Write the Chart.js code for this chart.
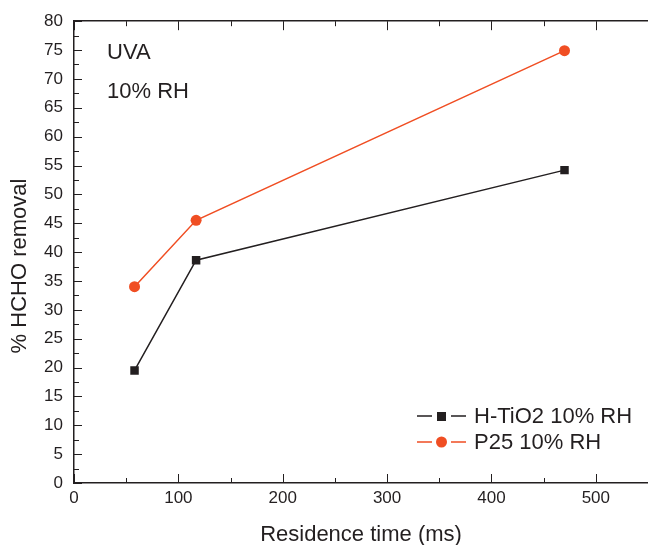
<!DOCTYPE html>
<html>
<head>
<meta charset="utf-8">
<script src="https://cdn.jsdelivr.net/npm/chart.js@4"></script>
<style>
  html, body { margin: 0; padding: 0; background: #fff; }
  #wrap { width: 648px; height: 545px; position: relative; }
</style>
</head>
<body>
<div id="wrap"><canvas id="grafico"></canvas></div>
<script>
// datos
const tiempos = [58, 117, 470];
const htio2 = [19.5, 38.6, 54.2];
const p25 = [34.0, 45.5, 74.9];
const nombres = ["H-TiO2 10% RH", "P25 10% RH"];
const xTicks = [0, 100, 200, 300, 400, 500];
const yTicks = [0, 5, 10, 15, 20, 25, 30, 35, 40, 45, 50, 55, 60, 65, 70, 75, 80];

const NEGRO = "#231f20";
const NARANJA = "#f04e23";
const FUENTE = "'Liberation Sans', Arial, sans-serif";

const puntos = (xs, ys) => xs.map((x, i) => ({ x: x, y: ys[i] }));

// ticks hacia adentro, textos y leyenda
const extras = {
  id: "extras",
  afterDraw(chart) {
    const ctx = chart.ctx;
    const { left, right, top, bottom } = chart.chartArea;
    const sx = chart.scales.x;
    const sy = chart.scales.y;
    ctx.save();
    ctx.strokeStyle = NEGRO;
    ctx.lineWidth = 1;
    ctx.beginPath();
    for (let v = 0; v <= 550; v += 50) {
      const px = Math.round(sx.getPixelForValue(v)) + 0.5;
      const len = v % 100 === 0 ? 9 : 5;
      ctx.moveTo(px, bottom); ctx.lineTo(px, bottom - len);
      ctx.moveTo(px, top); ctx.lineTo(px, top + len);
    }
    for (let v = 0; v <= 80; v += 2.5) {
      const py = Math.round(sy.getPixelForValue(v)) + 0.5;
      const len = v % 5 === 0 ? 8 : 5;
      ctx.moveTo(left, py); ctx.lineTo(left + len, py);
    }
    ctx.stroke();

    ctx.fillStyle = NEGRO;
    ctx.font = "22px " + FUENTE;
    ctx.textBaseline = "middle";
    ctx.textAlign = "left";
    ctx.fillText("UVA", 107, 53);
    ctx.fillText("10% RH", 107, 92);

    // titulos de ejes
    ctx.font = "22px " + FUENTE;
    ctx.textAlign = "center";
    ctx.fillText("Residence time (ms)", 361, 535);
    ctx.save();
    ctx.translate(20, 266);
    ctx.rotate(-Math.PI / 2);
    ctx.fillText("% HCHO removal", 0, 0);
    ctx.restore();

    // leyenda
    const filas = [
      { y: 416, color: NEGRO, forma: "rect", texto: nombres[0] },
      { y: 442, color: NARANJA, forma: "circle", texto: nombres[1] }
    ];
    ctx.font = "22px " + FUENTE;
    ctx.textAlign = "left";
    filas.forEach((f) => {
      ctx.strokeStyle = f.color;
      ctx.lineWidth = 1.5;
      ctx.beginPath();
      ctx.moveTo(417, f.y); ctx.lineTo(432, f.y);
      ctx.moveTo(451, f.y); ctx.lineTo(466, f.y);
      ctx.stroke();
      ctx.fillStyle = f.color;
      if (f.forma === "rect") {
        ctx.fillRect(437, f.y - 4, 9, 9);
      } else {
        ctx.beginPath();
        ctx.arc(441.5, f.y, 5.5, 0, Math.PI * 2);
        ctx.fill();
      }
      ctx.fillStyle = NEGRO;
      ctx.fillText(f.texto, 474, f.y + 1);
    });
    ctx.restore();
  }
};

const sinPadding = (s) => { s.paddingLeft = 0; s.paddingRight = 0; };

new Chart(document.getElementById("grafico"), {
  type: "line",
  data: {
    datasets: [
      {
        label: nombres[0],
        data: puntos(tiempos, htio2),
        borderColor: NEGRO,
        backgroundColor: NEGRO,
        borderWidth: 1.5,
        pointStyle: "rect",
        pointRadius: 6,
        pointBorderWidth: 0,
        tension: 0,
      },
      {
        label: nombres[1],
        data: puntos(tiempos, p25),
        borderColor: NARANJA,
        backgroundColor: NARANJA,
        borderWidth: 1.5,
        pointStyle: "circle",
        pointRadius: 5.5,
        pointBorderWidth: 0,
        tension: 0,
      }
    ]
  },
  options: {
    responsive: true,
    maintainAspectRatio: false,
    animation: false,
    layout: { autoPadding: false, padding: { top: 21, right: 0, left: 0, bottom: 0 } },
    plugins: {
      legend: { display: false },
      tooltip: { enabled: false }
    },
    scales: {
      x: {
        type: "linear",
        min: 0,
        max: 550,
        afterFit: (s) => { s.height = 62; sinPadding(s); },
        afterBuildTicks: (s) => { s.ticks = xTicks.map((v) => ({ value: v })); },
        grid: { display: false, drawTicks: false },
        border: { display: true, color: NEGRO, width: 1.5 },
        ticks: {
          color: NEGRO,
          font: { family: FUENTE, size: 17 },
          padding: 5,
          maxRotation: 0,
        },
      },
      x2: {
        type: "linear",
        position: "top",
        min: 0,
        max: 550,
        afterFit: (s) => { s.height = 0; sinPadding(s); },
        grid: { display: false, drawTicks: false },
        border: { display: true, color: NEGRO, width: 1.5 },
        ticks: { display: false },
      },
      y: {
        min: 0,
        max: 80,
        afterFit: (s) => { s.width = 74; },
        afterBuildTicks: (s) => { s.ticks = yTicks.map((v) => ({ value: v })); },
        grid: { display: false, drawTicks: false },
        border: { display: true, color: NEGRO, width: 1.5 },
        ticks: {
          color: NEGRO,
          font: { family: FUENTE, size: 17 },
          padding: 11,
        },
      }
    }
  },
  plugins: [extras]
});
</script>
</body>
</html>
